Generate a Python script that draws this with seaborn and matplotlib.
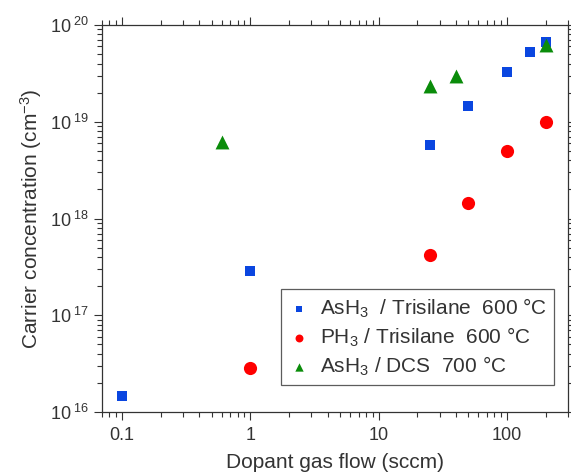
import numpy as np
import pandas as pd
import matplotlib
matplotlib.use("Agg")
import matplotlib.pyplot as plt
import matplotlib.ticker as mticker
import seaborn as sns

# === Data ===
as_tri_flow = [0.1, 1, 25, 50, 100, 150, 200]
as_tri_conc = [1.45e16, 2.9e17, 5.8e18, 1.46e19, 3.3e19, 5.2e19, 6.7e19]

p_tri_flow = [1, 25, 50, 100, 200]
p_tri_conc = [2.85e16, 4.2e17, 1.44e18, 5.0e18, 9.9e18]

as_dcs_flow = [0.6, 25, 40, 200]
as_dcs_conc = [6.2e18, 2.37e19, 3.0e19, 6.2e19]

series_labels = [r"AsH$_3$  / Trisilane  600 °C",
                 r"PH$_3$ / Trisilane  600 °C",
                 r"AsH$_3$ / DCS  700 °C"]
series_colors = ["#0a46e0", "#ff0000", "#0a8c0a"]
series_markers = ["s", "o", "^"]
series_sizes = [55, 90, 100]

df = pd.concat([
    pd.DataFrame({"flow": as_tri_flow, "conc": as_tri_conc, "series": series_labels[0]}),
    pd.DataFrame({"flow": p_tri_flow, "conc": p_tri_conc, "series": series_labels[1]}),
    pd.DataFrame({"flow": as_dcs_flow, "conc": as_dcs_conc, "series": series_labels[2]}),
])


def main():
    sns.set_style("ticks")
    plt.rcParams["font.family"] = ["Liberation Sans", "DejaVu Sans"]
    plt.rcParams["mathtext.fontset"] = "custom"
    plt.rcParams["mathtext.rm"] = "Liberation Sans"
    plt.rcParams["mathtext.it"] = "Liberation Sans"

    fig = plt.figure(figsize=(5.71, 4.72), dpi=100)
    ax = fig.add_axes([0.178, 0.127, 0.817, 0.820])

    for lab, col, mk, sz in zip(series_labels, series_colors, series_markers, series_sizes):
        sns.scatterplot(data=df[df["series"] == lab], x="flow", y="conc",
                        color=col, marker=mk, s=sz, linewidth=0,
                        label=lab, ax=ax, zorder=3)

    ax.set_xscale("log")
    ax.set_yscale("log")
    ax.set_xlim(0.0695, 300)
    ax.set_ylim(1e16, 1e20)

    # outward ticks on every side, Igor style
    ax.tick_params(which="both", direction="out", top=True, right=True,
                   color="#333333", width=0.8)
    ax.tick_params(which="major", length=6, labelsize=13, labelcolor="#333333")
    ax.tick_params(which="minor", length=3.5)
    ax.tick_params(axis="x", which="both", labeltop=False, pad=5)
    ax.tick_params(axis="y", which="both", labelright=False, pad=3)
    ax.xaxis.set_minor_locator(mticker.LogLocator(base=10, subs=np.arange(2, 10), numticks=20))
    ax.yaxis.set_minor_locator(mticker.LogLocator(base=10, subs=np.arange(2, 10), numticks=20))
    ax.xaxis.set_major_formatter(mticker.FuncFormatter(lambda v, p: f"{v:g}"))
    ax.yaxis.set_major_formatter(mticker.FuncFormatter(
        lambda v, p: r"10$^{\ %d}$" % round(np.log10(v))))
    for s in ax.spines.values():
        s.set_color("#333333")
        s.set_linewidth(0.9)

    ax.set_xlabel("Dopant gas flow (sccm)", fontsize=15, color="#333333", labelpad=6)
    ax.set_ylabel(r"Carrier concentration (cm$^{-3}$)", fontsize=15, color="#333333", labelpad=4)

    leg = ax.legend(loc="lower right", bbox_to_anchor=(0.97, 0.07), borderaxespad=0,
                    fontsize=15, frameon=True, fancybox=False, edgecolor="#333333",
                    markerscale=0.6, handletextpad=0.5, borderpad=0.35,
                    labelspacing=0.27, handlelength=1.0)
    leg.get_frame().set_linewidth(0.9)
    for t in leg.get_texts():
        t.set_color("#333333")

    fig.savefig("out.png", dpi=100)


if __name__ == "__main__":
    main()
